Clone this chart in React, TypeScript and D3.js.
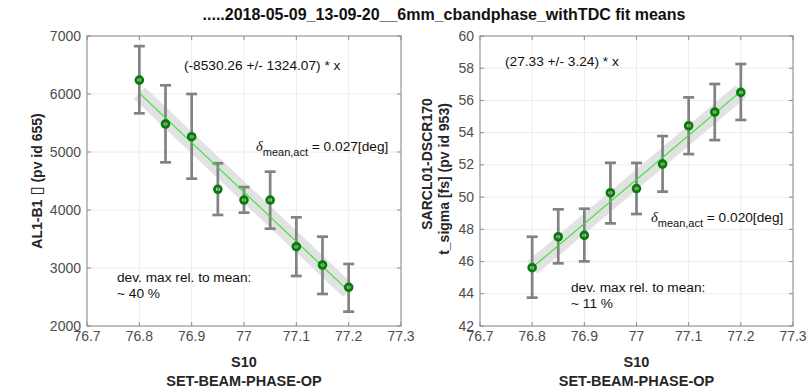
import React from "react";
import * as d3 from "d3";

const xValues = [76.8, 76.85, 76.9, 76.95, 77.0, 77.05, 77.1, 77.15, 77.2];

const leftMeans = [6241, 5483, 5264, 4357, 4172, 4172, 3368, 3052, 2667];
const leftUpper = [6825, 6150, 6000, 4805, 4395, 4661, 3874, 3540, 3069];
const leftLower = [5667, 4822, 4540, 3914, 3954, 3678, 2862, 2552, 2247];
const leftFitX = [76.8, 77.2];
const leftFitY = [6014, 2602];

const rightMeans = [45.62, 47.54, 47.63, 50.27, 50.53, 52.05, 54.43, 55.28, 56.5];
const rightUpper = [47.54, 49.24, 49.28, 52.13, 52.12, 53.79, 56.19, 57.02, 58.26];
const rightLower = [43.76, 45.89, 46.01, 48.37, 48.95, 50.34, 52.67, 53.54, 54.79];
const rightFitX = [76.8, 77.2];
const rightFitY = [45.62, 56.56];

const xTicks = [76.7, 76.8, 76.9, 77, 77.1, 77.2, 77.3];
const xTickLabels = ["76.7", "76.8", "76.9", "77", "77.1", "77.2", "77.3"];
const leftYTicks = [2000, 3000, 4000, 5000, 6000, 7000];
const rightYTicks = [42, 44, 46, 48, 50, 52, 54, 56, 58, 60];

const title = ".....2018-05-09_13-09-20__6mm_cbandphase_withTDC fit means";
const xLabel1 = "S10";
const xLabel2 = "SET-BEAM-PHASE-OP";

const FONT = "'Liberation Sans', Arial, Helvetica, sans-serif";
const AXIS_COLOR = "#8a8a8a";
const TICK_TEXT = "#4d4d4d";
const GRID = "#ececec";
const ANN = 13.7;

type PanelProps = {
  x0: number;
  x1: number;
  y0: number;
  y1: number;
  yDomain: [number, number];
  yTicks: number[];
  means: number[];
  upper: number[];
  lower: number[];
  fitX: number[];
  fitY: number[];
  yLabel: React.ReactNode;
  fitText: string;
  fitTextPos: [number, number];
  deltaText: string;
  deltaPos: [number, number];
  devLines: string[];
  devPos: [number, number];
};

function Panel(p: PanelProps) {
  const xs = d3.scaleLinear().domain([76.7, 77.3]).range([p.x0, p.x1]);
  const ys = d3.scaleLinear().domain(p.yDomain).range([p.y1, p.y0]);
  const fitLine = d3
    .line<number>()
    .x((_, i) => xs(p.fitX[i]))
    .y((d) => ys(d));
  const tickLen = 4;
  const cap = 5.5;
  const cx = (p.x0 + p.x1) / 2;
  return (
    <g>
      {xTicks.map((t, i) => (
        <line key={"gx" + i} x1={xs(t)} x2={xs(t)} y1={p.y0} y2={p.y1} stroke={GRID} strokeWidth={1} />
      ))}
      {p.yTicks.map((t, i) => (
        <line key={"gy" + i} x1={p.x0} x2={p.x1} y1={ys(t)} y2={ys(t)} stroke={GRID} strokeWidth={1} />
      ))}
      <path d={fitLine(p.fitY) || ""} stroke="#e2e2e2" strokeWidth={16} fill="none" strokeLinecap="butt" />
      {xValues.map((x, i) => (
        <g key={"eb" + i} stroke="#828282" strokeWidth={2.7}>
          <line x1={xs(x)} x2={xs(x)} y1={ys(p.upper[i])} y2={ys(p.lower[i])} />
          <line x1={xs(x) - cap} x2={xs(x) + cap} y1={ys(p.upper[i])} y2={ys(p.upper[i])} />
          <line x1={xs(x) - cap} x2={xs(x) + cap} y1={ys(p.lower[i])} y2={ys(p.lower[i])} />
        </g>
      ))}
      <path d={fitLine(p.fitY) || ""} stroke="#2ee62e" strokeWidth={1.1} fill="none" />
      {xValues.map((x, i) => (
        <circle key={"m" + i} cx={xs(x)} cy={ys(p.means[i])} r={3.4} fill="none" stroke="#008000" strokeWidth={2.8} />
      ))}
      <rect x={p.x0} y={p.y0} width={p.x1 - p.x0} height={p.y1 - p.y0} fill="none" stroke={AXIS_COLOR} strokeWidth={1} />
      {xTicks.map((t, i) => (
        <g key={"tx" + i} stroke={AXIS_COLOR}>
          <line x1={xs(t)} x2={xs(t)} y1={p.y1} y2={p.y1 - tickLen} />
          <line x1={xs(t)} x2={xs(t)} y1={p.y0} y2={p.y0 + tickLen} />
        </g>
      ))}
      {p.yTicks.map((t, i) => (
        <g key={"ty" + i} stroke={AXIS_COLOR}>
          <line x1={p.x0} x2={p.x0 + tickLen} y1={ys(t)} y2={ys(t)} />
          <line x1={p.x1} x2={p.x1 - tickLen} y1={ys(t)} y2={ys(t)} />
        </g>
      ))}
      {xTicks.map((t, i) => (
        <text key={"lx" + i} x={xs(t)} y={p.y1 + 15} textAnchor="middle" fontSize={14} fill={TICK_TEXT} fontFamily={FONT}>
          {xTickLabels[i]}
        </text>
      ))}
      {p.yTicks.map((t, i) => (
        <text key={"ly" + i} x={p.x0 - 6} y={ys(t) + 4.5} textAnchor="end" fontSize={14} fill={TICK_TEXT} fontFamily={FONT}>
          {String(t)}
        </text>
      ))}
      <text x={cx} y={p.y1 + 41} textAnchor="middle" fontSize={14.5} fontWeight="bold" fill="#262626" fontFamily={FONT}>
        {xLabel1}
      </text>
      <text x={cx} y={p.y1 + 60} textAnchor="middle" fontSize={14.5} fontWeight="bold" fill="#262626" fontFamily={FONT}>
        {xLabel2}
      </text>
      {p.yLabel}
      <text x={p.fitTextPos[0]} y={p.fitTextPos[1]} fontSize={ANN} fill="#111" fontFamily={FONT}>
        {p.fitText}
      </text>
      <text x={p.deltaPos[0]} y={p.deltaPos[1]} fontSize={ANN} fill="#111" fontFamily={FONT}>
        <tspan fontFamily="'Liberation Serif', 'Times New Roman', serif" fontStyle="italic" fontSize={14.5}>δ</tspan>
        <tspan dy={5} fontSize={11}>mean,act</tspan>
        <tspan dy={-5}>{" = " + p.deltaText}</tspan>
      </text>
      {p.devLines.map((s, i) => (
        <text key={"dv" + i} x={p.devPos[0]} y={p.devPos[1] + i * 16} fontSize={ANN} fill="#111" fontFamily={FONT}>
          {s}
        </text>
      ))}
    </g>
  );
}

function YLabel({ x, y, children }: { x: number; y: number; children: React.ReactNode }) {
  return (
    <text
      transform={`translate(${x},${y}) rotate(-90)`}
      textAnchor="middle"
      fontSize={14}
      fontWeight="bold"
      fill="#262626"
      fontFamily={FONT}
    >
      {children}
    </text>
  );
}

export default function App() {
  return (
    <svg
      width={809}
      height={389}
      style={{ position: "absolute", left: 0, top: 0, background: "#fff" }}
      xmlns="http://www.w3.org/2000/svg"
    >
      <rect x={0} y={0} width={809} height={389} fill="#fff" />
      <text x={444} y={20} textAnchor="middle" fontSize={16} fontWeight="bold" fill="#111" fontFamily={FONT}>
        {title}
      </text>
      <Panel
        x0={87}
        x1={401}
        y0={36}
        y1={326}
        yDomain={[2000, 7000]}
        yTicks={leftYTicks}
        means={leftMeans}
        upper={leftUpper}
        lower={leftLower}
        fitX={leftFitX}
        fitY={leftFitY}
        yLabel={
          <YLabel x={42} y={181}>
            {"AL1-B1 "}
            <tspan fontFamily="'DejaVu Sans'" fontWeight="normal" fontSize={17}>{"\u25AF"}</tspan>
            {" (pv id 655)"}
          </YLabel>
        }
        fitText="(-8530.26 +/- 1324.07) * x"
        fitTextPos={[184, 70]}
        deltaText="0.027[deg]"
        deltaPos={[256, 151]}
        devLines={["dev. max rel. to mean:", "~ 40 %"]}
        devPos={[117, 282]}
      />
      <Panel
        x0={480}
        x1={793}
        y0={36}
        y1={326}
        yDomain={[42, 60]}
        yTicks={rightYTicks}
        means={rightMeans}
        upper={rightUpper}
        lower={rightLower}
        fitX={rightFitX}
        fitY={rightFitY}
        yLabel={
          <g>
            <YLabel x={432} y={164}>SARCL01-DSCR170</YLabel>
            <YLabel x={449} y={179}>t_sigma [fs] (pv id 953)</YLabel>
          </g>
        }
        fitText="(27.33 +/- 3.24) * x"
        fitTextPos={[505, 66]}
        deltaText="0.020[deg]"
        deltaPos={[651, 222]}
        devLines={["dev. max rel. to mean:", "~ 11 %"]}
        devPos={[571, 292]}
      />
    </svg>
  );
}
